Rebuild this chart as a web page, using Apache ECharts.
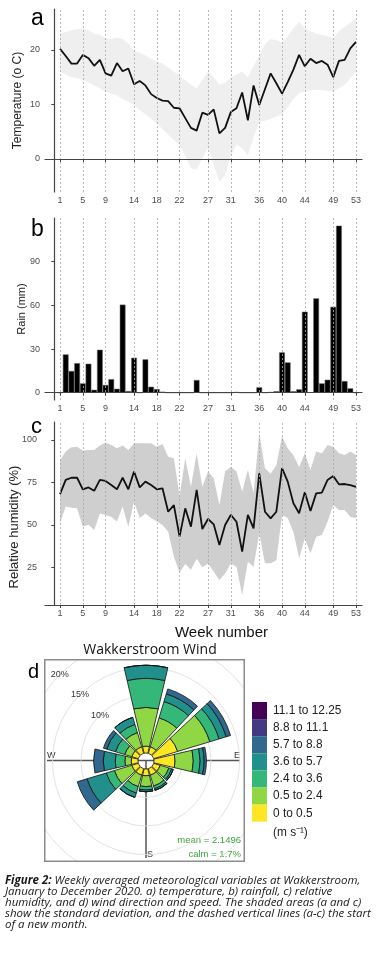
<!DOCTYPE html>
<html>
<head>
<meta charset="utf-8">
<script src="https://cdn.jsdelivr.net/npm/echarts@6.0.0/dist/echarts.min.js"></script>
<style>
  body { margin: 0; background: #fff; }
  #main { position: absolute; left: 0; top: 0; width: 381px; height: 953px; }
  #rose { position: absolute; left: 44px; top: 659px; width: 201px; height: 203px; }
  #cap {
    position: absolute; left: 5px; top: 874px; width: 376px;
    font: italic 11.5px/11px "Open Sans", "Liberation Sans", sans-serif;
    color: #1a1a1a; white-space: nowrap;
  }
  #cap b { font-weight: 700; }
</style>
</head>
<body>
<div id="main"></div>
<div id="rose"></div>
<div id="cap"><b>Figure 2:</b> Weekly averaged meteorological variables at Wakkerstroom,<br>January to December 2020. a) temperature, b) rainfall, c) relative<br>humidity, and d) wind direction and speed. The shaded areas (a and c)<br>show the standard deviation, and the dashed vertical lines (a-c) the start<br>of a new month.</div>
<script>
// weeks and tick labels
var weeks = [1,2,3,4,5,6,7,8,9,10,11,12,13,14,15,16,17,18,19,20,21,22,23,24,25,26,27,
  28,29,30,31,32,33,34,35,36,37,38,39,40,41,42,43,44,45,46,47,48,49,50,51,52,53];
var weekTicks = [1,5,9,14,18,22,27,31,36,40,44,49,53];
var tempTicks = [0,10,20];
var rainTicks = [0,30,60,90];
var rhTicks = [25,50,75,100];

// a) temperature (mean and +/- sd)
var tempMean = [20.2,18.9,17.5,17.5,19.1,18.5,17.1,18.2,15.7,15.3,17.6,16.1,16.6,13.7,14.3,13.5,11.9,11.2,
  10.7,10.6,9.4,9.3,7.5,5.7,5.2,8.5,8.1,9.1,4.7,5.7,8.6,9.3,12.2,7.1,13.5,9.9,12.8,15.7,13.9,12.0,
  14.1,16.4,19.1,17.0,18.4,17.6,18.0,17.3,15.0,18.0,18.2,20.3,21.5];
var tempUpper = [23.0,23.3,23.6,23.8,24.0,23.6,23.0,22.8,22.2,22.0,22.3,22.0,21.2,19.8,19.5,19.0,18.4,17.9,
  17.5,16.8,16.0,15.3,14.5,13.6,13.0,14.5,16.0,15.0,13.6,14.0,15.0,15.5,16.0,15.0,17.0,19.0,21.0,22.0,
  21.8,21.4,22.5,24.0,25.2,24.0,23.5,23.0,22.8,22.5,22.1,23.5,24.2,25.0,25.8];
var tempLower = [16.0,15.5,15.0,14.8,14.5,14.0,13.5,13.0,12.3,12.0,11.7,11.0,10.5,9.9,9.0,8.2,7.4,6.5,
  5.5,4.5,3.5,2.6,0.5,-1.7,-2.0,0.2,2.0,-1.0,-4.2,-3.0,0.5,2.6,2.0,0.7,4.0,6.8,7.0,7.4,7.8,8.1,
  9.5,11.0,12.1,12.4,12.6,12.7,12.6,12.5,12.4,13.0,13.6,14.8,16.0];

// b) rainfall (mm)
var rain = [0,26.3,14.9,20.3,6.4,19.9,2.0,29.5,5.3,9.3,2.7,60.5,1.1,24.0,0,22.9,4.1,2.5,0.7,0,0,0,0,0,
  8.7,0,0,0,0,0,0,0.5,0,0,0,3.7,0,0.5,1.0,27.7,20.8,1.0,2.3,55.6,0.3,64.8,6.4,8.9,59.0,114.7,8.0,3.0,0];

// c) relative humidity (%)
var rhMean = [68.1,76.4,77.7,77.7,70.9,72.0,70.0,76.4,75.8,73.4,70.9,77.7,70.9,81.3,72.0,75.4,73.4,70.9,
  71.5,57.7,61.6,43.0,59.7,48.9,70.5,47.5,53.4,50.3,38.1,49.9,55.8,51.8,34.2,55.8,47.9,80.3,57.7,53.8,
  57.7,83.3,75.4,62.7,56.8,69.1,58.1,68.5,68.9,76.4,78.7,73.8,74.0,73.4,72.3];
var rhUpper = [87.8,93.1,95.6,96.0,93.6,94.0,94.0,96.6,98.3,97.0,95.0,96.6,94.0,98.0,98.0,98.0,98.0,96.0,
  97.6,90.1,89.1,67.0,89.2,72.4,92.1,72.4,81.3,77.4,61.7,81.3,84.2,81.3,69.5,82.3,68.5,103.9,83.3,80.0,
  85.0,101.9,95.0,91.0,84.0,92.1,82.3,93.1,92.0,96.9,96.0,92.1,91.1,93.1,91.1];
var rhLower = [50.9,60.7,60.0,59.7,49.0,50.0,47.0,56.7,55.8,54.8,51.9,60.7,48.9,63.6,54.0,56.7,54.0,51.9,
  49.9,45.9,31.2,22.0,27.0,23.6,30.0,25.0,27.2,22.4,17.5,21.4,27.2,25.3,8.7,28.3,25.3,45.0,27.3,27.3,
  29.2,55.8,54.0,45.8,30.3,42.0,33.2,43.0,44.0,51.8,61.7,58.7,58.7,54.8,53.8];

// d) wind rose, % of time per direction and speed bin
var windDirs = ['N','NNE','ENE','E','ESE','SSE','S','SSW','WSW','W','WNW','NNW'];
var speedBins = ['0 to 0.5','0.5 to 2.4','2.4 to 3.6','3.6 to 5.7','5.7 to 8.8','8.8 to 11.1','11.1 to 12.25'];
var speedColors = ['#FDE725','#8FD744','#35B779','#21908C','#31688E','#443A83','#440154'];
var windBin0 = [1.2,1.2,4.4,3.7,1.2,1.2,1.2,1.2,1.2,1.2,1.2,1.2];
var windBin1 = [6.8,5.3,5.9,3.2,1.6,2.0,1.9,2.1,3.2,1.1,1.3,2.6];
var windBin2 = [5.1,3.0,1.7,1.2,0.5,0.5,0.6,1.2,1.5,1.7,1.7,1.5];
var windBin3 = [2.3,1.4,1.3,0.7,0.3,0.3,0.3,0.8,3.5,2.1,1.6,1.3];
var windBin4 = [0,0.9,0.8,0.4,0,0,0,0,1.8,1.7,0.6,0];
var windBins = [windBin0, windBin1, windBin2, windBin3, windBin4];
var ringLevels = [5,10,15,20];
var ringLabels = [10,15,20];
var windMean = '2.1496';
var calmPct = '1.7%';

var FONT = '"Liberation Sans", Arial, sans-serif';

function pair(ys) {
  return weeks.map(function (w, i) { return [w, ys[i]]; });
}

function dashLines() {
  return {
    silent: true,
    symbol: ['none', 'none'],
    label: { show: false },
    lineStyle: { type: [2, 2], color: '#aaaaaa', width: 0.8 },
    data: weekTicks.map(function (w) { return { xAxis: w }; })
  };
}

// sd band: grey area under the upper edge, then white area under the lower edge
function band(idx, lower, upper, color) {
  return [
    {
      type: 'line', xAxisIndex: idx, yAxisIndex: idx, data: pair(upper),
      symbol: 'none', silent: true, lineStyle: { opacity: 0 },
      areaStyle: { color: color, opacity: 1, origin: 'start' }
    },
    {
      type: 'line', xAxisIndex: idx, yAxisIndex: idx, data: pair(lower),
      symbol: 'none', silent: true, lineStyle: { opacity: 0 },
      areaStyle: { color: '#ffffff', opacity: 1, origin: 'start' },
      markLine: dashLines()
    }
  ];
}

function xAx(idx, extra) {
  var o = {
    type: 'value', gridIndex: idx, min: -1.64, max: 54.05, z: 10,
    axisLine: { show: true, lineStyle: { color: '#444', width: 1.2 } },
    axisTick: { show: true, customValues: weekTicks, length: 3, lineStyle: { color: '#444' } },
    axisLabel: { customValues: weekTicks, fontSize: 9, color: '#4d4d4d', margin: 4 },
    splitLine: { show: false }
  };
  return Object.assign(o, extra || {});
}

function yAx(idx, min, max, ticks, name, nameSize, gap, margin, pad) {
  return {
    type: 'value', gridIndex: idx, min: min, max: max, z: 10,
    name: name, nameLocation: 'middle', nameGap: gap, nameMoveOverlap: false,
    nameTextStyle: { fontSize: nameSize, color: '#222', padding: pad || 0 },
    axisLine: { show: true, lineStyle: { color: '#444', width: 1.2 } },
    axisTick: { show: true, customValues: ticks, length: 3, lineStyle: { color: '#444' } },
    axisLabel: { customValues: ticks, fontSize: 9, color: '#4d4d4d', margin: margin },
    splitLine: { show: false }
  };
}

// legend key for the rose, top = fastest bin
var legendEls = [];
speedBins.slice().reverse().forEach(function (lab, k) {
  var i = speedBins.length - 1 - k;
  legendEls.push({
    type: 'rect', shape: { x: 252, y: 702 + k * 17.1, width: 15, height: 17.1 },
    style: { fill: speedColors[i] }
  });
  legendEls.push({
    type: 'text', x: 273, y: 710.5 + k * 17.1, scaleX: 0.95,
    style: { text: lab, fontSize: 12.5, fontFamily: FONT, fill: '#222', verticalAlign: 'middle' }
  });
});
legendEls.push({
  type: 'text', x: 273, y: 833, scaleX: 0.95,
  style: { text: '(m s\u207B\u00B9)', fontSize: 12.5, fontFamily: FONT, fill: '#222', verticalAlign: 'middle' }
});

var main = echarts.init(document.getElementById('main'), null, { renderer: 'canvas' });
main.setOption({
  animation: false,
  textStyle: { fontFamily: FONT },
  grid: [
    { left: 45, top: 9, width: 317, height: 183, outerBoundsMode: 'none' },
    { left: 45, top: 218, width: 317, height: 182, outerBoundsMode: 'none' },
    { left: 45, top: 422, width: 317, height: 183, outerBoundsMode: 'none' }
  ],
  xAxis: [
    xAx(0),
    xAx(1),
    xAx(2, {
      name: 'Week number', nameLocation: 'middle', nameGap: 20, nameMoveOverlap: false,
      nameTextStyle: { fontSize: 15, color: '#111', padding: [0, 0, 0, 36] }
    })
  ],
  yAxis: [
    yAx(0, -6.06, 27.52, tempTicks, 'Temperature (o C)', 12, 21, 5),
    yAx(1, -5.0, 120.0, rainTicks, 'Rain (mm)', 11, 18, 5),
    yAx(2, 2.8, 110.5, rhTicks, 'Relative humidity (%)', 13, 24, 8, [0, 27, 0, 0])
  ],
  series: [].concat(
    band(0, tempLower, tempUpper, '#efefef'),
    [{
      type: 'line', xAxisIndex: 0, yAxisIndex: 0, data: pair(tempMean),
      symbol: 'none', lineStyle: { color: '#111', width: 1.8 }
    }],
    [{
      type: 'bar', xAxisIndex: 1, yAxisIndex: 1, data: pair(rain), barWidth: 5.7,
      itemStyle: { color: '#000', borderColor: '#666', borderWidth: 0.5 },
      markLine: dashLines()
    }],
    band(2, rhLower, rhUpper, '#cfcfcf'),
    [{
      type: 'line', xAxisIndex: 2, yAxisIndex: 2, data: pair(rhMean),
      symbol: 'none', lineStyle: { color: '#111', width: 1.8 }
    }]
  ),
  graphic: [
    { type: 'text', x: 31, y: 19, style: { text: 'a', fontSize: 23, fontFamily: FONT, fill: '#000', verticalAlign: 'middle' } },
    { type: 'text', x: 31, y: 230, style: { text: 'b', fontSize: 23, fontFamily: FONT, fill: '#000', verticalAlign: 'middle' } },
    { type: 'text', x: 31, y: 427, z: 10, style: { text: 'c', fontSize: 22, fontFamily: FONT, fill: '#000', verticalAlign: 'middle' } },
    { type: 'text', x: 150, y: 650, style: { text: 'Wakkerstroom Wind', fontSize: 14, fontFamily: '"Open Sans", sans-serif', fill: '#111', align: 'center', verticalAlign: 'middle' } },
    { type: 'text', x: 28, y: 672, style: { text: 'd', fontSize: 20, fontFamily: FONT, fill: '#000', verticalAlign: 'middle' } }
  ].concat(legendEls)
});

// wind rose in its own box so the outer rings are clipped at the frame
var CX = 102, CY = 102;
var rose = echarts.init(document.getElementById('rose'), null, { renderer: 'canvas' });
rose.setOption({
  animation: false,
  textStyle: { fontFamily: FONT },
  polar: [
    { center: [CX, CY], radius: 127.7 },
    { center: [CX, CY], radius: 127.7 }
  ],
  angleAxis: [
    {
      polarIndex: 0, type: 'category', data: windDirs, startAngle: 105, clockwise: true,
      axisLine: { show: false }, axisTick: { show: false }, axisLabel: { show: false }, splitLine: { show: false }
    },
    {
      polarIndex: 1, type: 'value', min: 0, max: 360, startAngle: 135,
      axisLine: { show: false }, axisTick: { show: false }, axisLabel: { show: false }, splitLine: { show: false }
    }
  ],
  radiusAxis: [
    {
      polarIndex: 0, min: -1.4, max: 21,
      axisLine: { show: false }, axisTick: { show: false }, axisLabel: { show: false }, splitLine: { show: false }
    },
    {
      polarIndex: 1, min: -1.4, max: 21,
      axisLine: { show: false },
      axisTick: { show: false, customValues: ringLevels },
      axisLabel: {
        customValues: ringLabels, formatter: '{value}%', fontSize: 9, color: '#333',
        margin: 0, align: 'center', verticalAlign: 'middle'
      },
      splitLine: { show: true, lineStyle: { color: '#dadada', width: 0.8 } }
    }
  ],
  series: windBins.map(function (vals, i) {
    return {
      type: 'bar', coordinateSystem: 'polar', polarIndex: 0, stack: 'wind',
      name: speedBins[i], data: vals, barCategoryGap: '12%',
      itemStyle: { color: speedColors[i], borderColor: '#111', borderWidth: 0.8 }
    };
  }),
  graphic: [
    { type: 'line', z: 0, shape: { x1: 3, y1: CY - 0.5, x2: 196, y2: CY - 0.5 }, style: { stroke: '#555', lineWidth: 1.5 } },
    { type: 'line', z: 0, shape: { x1: CX, y1: CY, x2: CX, y2: 199 }, style: { stroke: '#555', lineWidth: 1.5 } },
    { type: 'text', x: 3, y: 97, style: { text: 'W', fontSize: 9, fill: '#333', fontFamily: FONT, verticalAlign: 'middle' } },
    { type: 'text', x: 196, y: 97, style: { text: 'E', fontSize: 9, fill: '#333', fontFamily: FONT, align: 'right', verticalAlign: 'middle' } },
    { type: 'text', x: 103, y: 196, style: { text: 'S', fontSize: 9, fill: '#333', fontFamily: FONT, verticalAlign: 'middle' } },
    { type: 'text', x: 197, y: 181, style: { text: 'mean = ' + windMean, fontSize: 9.5, fill: '#3aa63a', fontFamily: FONT, align: 'right', verticalAlign: 'middle' } },
    { type: 'text', x: 197, y: 195, style: { text: 'calm = ' + calmPct, fontSize: 9.5, fill: '#3aa63a', fontFamily: FONT, align: 'right', verticalAlign: 'middle' } },
    { type: 'rect', z: 100, shape: { x: 0.75, y: 0.75, width: 199.5, height: 201.5 }, style: { fill: 'none', stroke: '#8c8c8c', lineWidth: 1.5 } }
  ]
});
</script>
</body>
</html>
